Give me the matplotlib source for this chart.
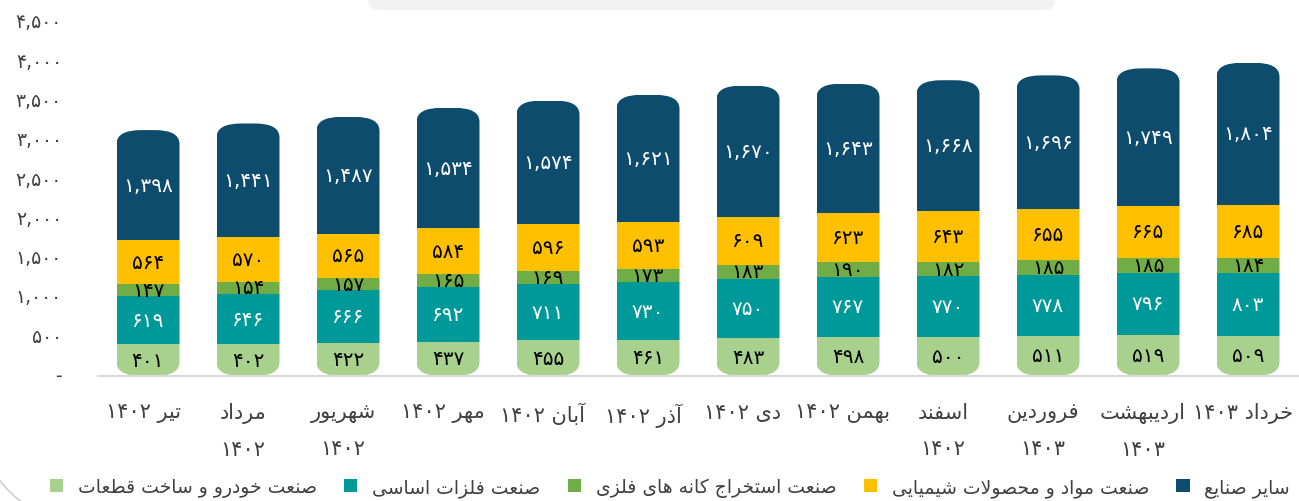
"""
Stacked monthly values by industry group, Tir 1402 - Khordad 1403.
"""
import re
import matplotlib
matplotlib.use("Agg")
import matplotlib.pyplot as plt
from matplotlib.patches import FancyBboxPatch, Patch, Arc
from matplotlib.ticker import FuncFormatter
from matplotlib.transforms import IdentityTransform, ScaledTranslation

# -- Data --
months = ["تیر ۱۴۰۲", "مرداد\n۱۴۰۲", "شهریور\n۱۴۰۲", "مهر ۱۴۰۲", "آبان ۱۴۰۲", "آذر ۱۴۰۲",
          "دی ۱۴۰۲", "بهمن ۱۴۰۲", "اسفند\n۱۴۰۲", "فروردین\n۱۴۰۳", "اردیبهشت\n۱۴۰۳", "خرداد ۱۴۰۳"]
khodro = [401, 402, 422, 437, 455, 461, 483, 498, 500, 511, 519, 509]
felezat = [619, 646, 666, 692, 711, 730, 750, 767, 770, 778, 796, 803]
estekhraj = [147, 154, 157, 165, 169, 173, 183, 190, 182, 185, 185, 184]
shimiyaei = [564, 570, 565, 584, 596, 593, 609, 623, 643, 655, 665, 685]
sayer = [1398, 1441, 1487, 1534, 1574, 1621, 1670, 1643, 1668, 1696, 1749, 1804]
series_names = ["صنعت خودرو و ساخت قطعات", "صنعت فلزات اساسی", "صنعت استخراج کانه های فلزی",
                "صنعت مواد و محصولات شیمیایی", "سایر صنایع"]
y_ticks = [0, 500, 1000, 1500, 2000, 2500, 3000, 3500, 4000, 4500]

colors = ["#A9D18E", "#009999", "#70AD47", "#FFC000", "#0E4C6E"]
label_colors = ["black", "white", "black", "black", "white"]

# -- Minimal Persian shaping (matplotlib has no bidi / joining) --
DUAL = {'ب': 0xFE8F, 'پ': 0xFB56, 'ت': 0xFE95, 'ث': 0xFE99, 'ج': 0xFE9D, 'چ': 0xFB7A,
        'ح': 0xFEA1, 'خ': 0xFEA5, 'س': 0xFEB1, 'ش': 0xFEB5, 'ص': 0xFEB9, 'ض': 0xFEBD,
        'ط': 0xFEC1, 'ظ': 0xFEC5, 'ع': 0xFEC9, 'غ': 0xFECD, 'ف': 0xFED1, 'ق': 0xFED5,
        'ک': 0xFB8E, 'گ': 0xFB92, 'ل': 0xFEDD, 'م': 0xFEE1, 'ن': 0xFEE5, 'ه': 0xFEE9,
        'ی': 0xFBFC}
RIGHT = {'ا': 0xFE8D, 'آ': 0xFE81, 'د': 0xFEA9, 'ذ': 0xFEAB, 'ر': 0xFEAD, 'ز': 0xFEAF,
         'ژ': 0xFB8A, 'و': 0xFEED}
LAM_ALEF = {'ا': 0xFEFB, 'آ': 0xFEF5}


def jtype(u):
    c, lig = u
    if lig is not None or c in RIGHT:
        return 'R'
    if c in DUAL:
        return 'D'
    return None


def shape(s):
    units = []
    i = 0
    while i < len(s):
        if s[i] == 'ل' and i + 1 < len(s) and s[i + 1] in LAM_ALEF:
            units.append(('ل', LAM_ALEF[s[i + 1]]))
            i += 2
        else:
            units.append((s[i], None))
            i += 1
    out = ''
    for k, u in enumerate(units):
        t = jtype(u)
        prev_j = k > 0 and jtype(units[k - 1]) == 'D'
        next_j = k < len(units) - 1 and jtype(units[k + 1]) is not None
        if t == 'D':
            base = DUAL[u[0]]
            code = base + (3 if prev_j and next_j else 1 if prev_j else 2 if next_j else 0)
            out += chr(code)
        elif t == 'R':
            base = u[1] if u[1] is not None else RIGHT[u[0]]
            out += chr(base + 1 if prev_j else base)
        else:
            out += u[0]
    return out


def fa_visual(s):
    lines = []
    for line in s.split('\n'):
        toks = re.findall(r'[۰-۹0-9,]+|[^۰-۹0-9,]+', shape(line))
        lines.append(''.join(t if re.match(r'[۰-۹0-9,]', t) else t[::-1] for t in reversed(toks)))
    return '\n'.join(lines)


def fa_num(v):
    if v == 0:
        return '-'
    return format(int(v), ',').translate(str.maketrans('0123456789', '۰۱۲۳۴۵۶۷۸۹'))


def main():
    plt.rcParams['font.family'] = ['DejaVu Sans']
    fig = plt.figure(figsize=(12.99, 5.02), dpi=100)
    ax = fig.add_axes([98 / 1299, (502 - 377) / 502, 1200 / 1299, 353.7 / 502])

    x = list(range(len(months)))
    stack = [khodro, felezat, estekhraj, shimiyaei, sayer]
    width = 0.63
    bottoms = [0] * len(x)
    conts = []
    for vals, col, lc in zip(stack, colors, label_colors):
        c = ax.bar(x, vals, width=width, bottom=bottoms, color=col, linewidth=0)
        ax.bar_label(c, labels=[fa_num(v) for v in vals], label_type='center',
                     color=lc, fontsize=14.5)
        conts.append(c)
        bottoms = [b + v for b, v in zip(bottoms, vals)]

    # -- rounded cylinder-like columns via clip paths --
    rx = 0.25
    ry = 14 / (353.7 / 4500)
    for i in x:
        box = FancyBboxPatch((i - width / 2, 0), width, bottoms[i],
                             boxstyle=f"round,pad=0,rounding_size={rx}",
                             mutation_aspect=ry / rx, transform=ax.transData,
                             facecolor='none', edgecolor='none')
        ax.add_patch(box)
        for c in conts:
            c[i].set_clip_path(box)

    ax.set_xlim(-0.5, 11.5)
    ax.set_ylim(0, 4500)
    ax.set_yticks(y_ticks)
    ax.yaxis.set_major_formatter(FuncFormatter(lambda v, p: fa_num(v)))
    ax.set_xticks(x)
    ax.set_xticklabels([fa_visual(m) for m in months], linespacing=1.95)
    ax.tick_params(axis='y', length=0, pad=26, labelsize=13.5, labelcolor='#404040')
    ax.tick_params(axis='x', length=0, pad=19, labelsize=15, labelcolor='#404040')
    for lbl in ax.get_yticklabels():
        lbl.set_transform(lbl.get_transform() + ScaledTranslation(0, 2.5 / 100, fig.dpi_scale_trans))
    for lbl in ax.get_xticklabels():
        lbl.set_transform(lbl.get_transform() + ScaledTranslation(-5 / 100, 0, fig.dpi_scale_trans))
    for s in ['top', 'right', 'left']:
        ax.spines[s].set_visible(False)
    ax.spines['bottom'].set_color('#D9D9D9')
    ax.spines['bottom'].set_linewidth(1.5)

    handles = [Patch(facecolor=c, edgecolor='none') for c in colors]
    fig.legend(handles, [fa_visual(n) for n in series_names], loc='center left',
               bbox_to_anchor=(50 / 1299, (502 - 488) / 502), ncol=5, frameon=False,
               fontsize=13.5, labelcolor='#404040', handlelength=0.7, handleheight=0.7,
               handletextpad=0.8, columnspacing=1.45, borderaxespad=0, borderpad=0)

    # -- decoration: grey title tab at top and frame arc at bottom left --
    fig.patches.append(FancyBboxPatch((368, 491), 687, 40, boxstyle="round,pad=0,rounding_size=10",
                                      transform=IdentityTransform(), facecolor='#F2F2F2',
                                      edgecolor='none'))
    fig.patches.append(Arc((100, 100), 256, 256, theta1=200, theta2=250,
                           transform=IdentityTransform(), color='#D0D0D0', lw=1.2))

    fig.savefig('out.png', dpi=100)


if __name__ == "__main__":
    main()
